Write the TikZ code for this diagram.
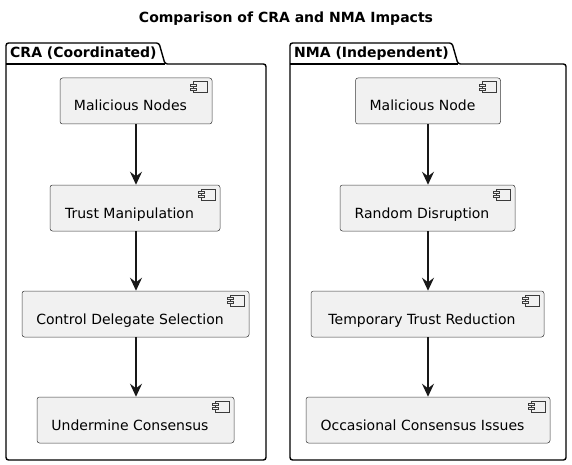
\documentclass[tikz,border=0pt]{standalone}
\usepackage{fontspec}
\setmainfont{DejaVu Sans}
\usetikzlibrary{arrows.meta}
\definecolor{compfill}{HTML}{F1F1F1}
\definecolor{compline}{HTML}{181818}
\begin{document}
\begin{tikzpicture}[x=1pt,y=-1pt,
  comp/.style={draw=compline!85, fill=compfill, line width=0.5pt, rounded corners=2.5pt,
    minimum height=46pt, inner sep=0pt, text height=20pt, text depth=0pt,
    font=\fontsize{14pt}{16pt}\selectfont},
  pkg/.style={draw=black, line width=1.4pt, rounded corners=2.5pt},
  pkglabel/.style={anchor=base west, inner sep=0pt, font=\bfseries\fontsize{14pt}{16pt}\selectfont},
  flow/.style={draw=compline, line width=1.4pt, -{Stealth[length=13pt,width=12pt,inset=4.5pt]}},
  compicon/.pic={
    \draw[compline!85, line width=0.5pt, fill=compfill] (-19,4) rectangle (-5,15);
    \draw[compline!85, line width=0.5pt, fill=compfill] (-22,6.5) rectangle (-16,8.5);
    \draw[compline!85, line width=0.5pt, fill=compfill] (-22,10.5) rectangle (-16,12.5);
  }]
\useasboundingbox (0,0) rectangle (572,465);
\node[anchor=base, inner sep=0pt, font=\bfseries\fontsize{14pt}{16pt}\selectfont] (title) at (286,23) {Comparison of CRA and NMA Impacts};

% packages
\draw[pkg] (6,64) -- (6,43) -- (159,43) -- (165,64) -- (266,64) -- (266,460) -- (6,460) -- cycle;
\draw[black, line width=1.4pt] (6,64) -- (165,64);
\node[pkglabel] (cralabel) at (10,58) {CRA (Coordinated)};

\draw[pkg] (290,64) -- (290,43) -- (452,43) -- (458,64) -- (566,64) -- (566,460) -- (290,460) -- cycle;
\draw[black, line width=1.4pt] (290,64) -- (458,64);
\node[pkglabel] (nmalabel) at (294,58) {NMA (Independent)};

% CRA components
\node[comp, minimum width=152pt] (c1) at (136,101) {Malicious Nodes\hspace*{11pt}};
\node[comp, minimum width=170pt] (c2) at (135,208) {Trust Manipulation\hspace*{11pt}};
\node[comp, minimum width=227pt] (c3) at (135.5,314) {Control Delegate Selection\hspace*{11pt}};
\node[comp, minimum width=197pt] (c4) at (135.5,420) {Undermine Consensus\hspace*{11pt}};

% NMA components
\node[comp, minimum width=145pt] (n1) at (428,101) {Malicious Node\hspace*{11pt}};
\node[comp, minimum width=175pt] (n2) at (427.5,208) {Random Disruption\hspace*{11pt}};
\node[comp, minimum width=233pt] (n3) at (427.5,314) {Temporary Trust Reduction\hspace*{11pt}};
\node[comp, minimum width=244pt] (n4) at (428,420) {Occasional Consensus Issues\hspace*{11pt}};

\foreach \n in {c1,c2,c3,c4,n1,n2,n3,n4} { \pic at (\n.north east) {compicon}; }

\draw[flow] (c1.south) -- (c1.south |- c2.north);
\draw[flow] (c2.south -| c1.south) -- (c1.south |- c3.north);
\draw[flow] (c3.south -| c1.south) -- (c1.south |- c4.north);
\draw[flow] (n1.south) -- (n1.south |- n2.north);
\draw[flow] (n2.south -| n1.south) -- (n1.south |- n3.north);
\draw[flow] (n3.south -| n1.south) -- (n1.south |- n4.north);
\end{tikzpicture}
\end{document}
